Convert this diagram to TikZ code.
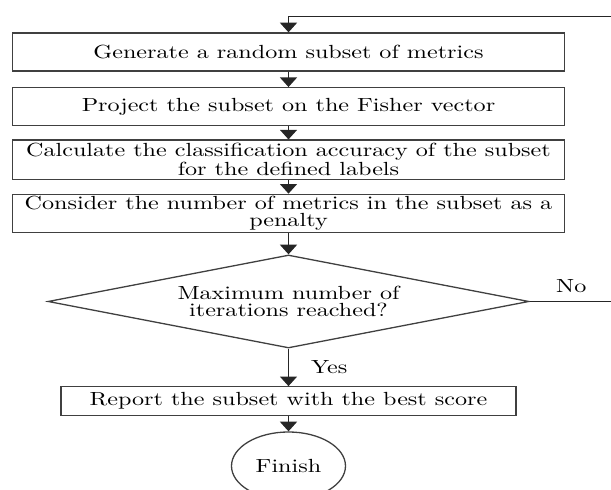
\documentclass[tikz,border=0pt]{standalone}
\usepackage{fontspec}
\setmainfont{lmroman10-regular.otf}[FakeStretch=1.27]
\usetikzlibrary{shapes.geometric,arrows.meta}

\begin{document}
\begin{tikzpicture}[x=0.5pt,y=-0.5pt,line width=0.65pt,
	txt/.style={font=\fontsize{9.5}{8.35}\selectfont,align=center,inner sep=0pt},
	stepbox/.style={txt,draw=black!75,rectangle,minimum width=276pt,minimum height=19pt},
	arr/.style={draw=black!85,-{Triangle[width=8.5pt,length=4.8pt]}}]
	\useasboundingbox (0,0) rectangle (611,490);
	\clip (0,0) rectangle (611,490);
	\node[stepbox] (gen) at (288.5,52) {Generate a random subset of metrics};
	\node[stepbox] (proj) at (288.5,106.7) {Project the subset on the Fisher vector};
	\node[stepbox,minimum height=19.6pt] (calc) at (288.5,159.7) {Calculate the classification accuracy of the subset\\for the defined labels};
	\node[stepbox] (pen) at (288.5,213.3) {Consider the number of metrics in the subset as a\\penalty};
	\node[txt,draw=black!75,diamond,aspect=5.17,minimum width=240.5pt,minimum height=46.5pt] (dec) at (288.5,301.5) {Maximum number of\\iterations reached?};
	\node[stepbox,minimum width=227.5pt,minimum height=14.2pt] (rep) at (288.5,401) {Report the subset with the best score};
	\node[txt,draw=black!75,ellipse,minimum width=57pt,minimum height=34pt] (fin) at (288.5,466) {Finish};
	\coordinate (back) at (613,16.7);
	\draw[arr] (gen.south) -- (proj.north);
	\draw[arr] (proj.south) -- (calc.north);
	\draw[arr] (calc.south) -- (pen.north);
	\draw[arr] (pen.south) -- (dec.north);
	\draw[arr] (dec.south) -- node[txt,right=11pt]{Yes} (rep.north);
	\draw[arr] (rep.south) -- (fin.north);
	\draw[arr] (dec.east) -- node[txt,above=4pt]{No} (dec.east -| back) -- (back) -- (back -| gen.north) -- (gen.north);
\end{tikzpicture}
\end{document}
